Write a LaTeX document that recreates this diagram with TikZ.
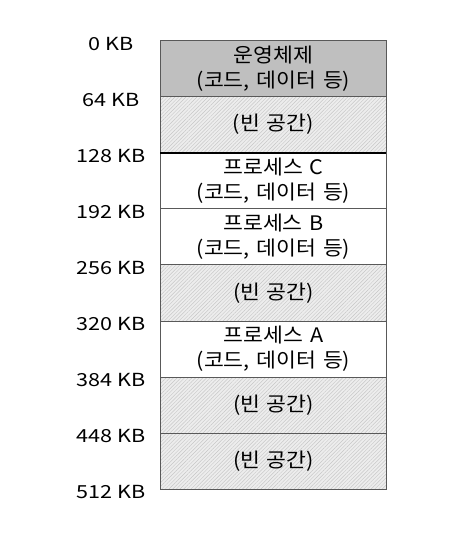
\documentclass[tikz,border=0pt]{standalone}
\usepackage{fontspec}
\setmainfont{Noto Sans CJK KR}
\newfontfamily\boxfont[FakeStretch=1.08,WordSpace=1.4]{Noto Sans CJK KR}
\newfontfamily\addrfont[FakeStretch=1.2]{Noto Sans CJK KR}
\usetikzlibrary{patterns.meta}
\begin{document}
\begin{tikzpicture}[x=1pt,y=-1pt,
  seg/.style={draw=black!65,line width=1pt,minimum width=226pt,minimum height=56.1pt,inner sep=0pt,anchor=north west,align=center,font=\boxfont\fontsize{20}{25}\selectfont},
  osseg/.style={seg,fill=black!25},
  freeseg/.style={seg,preaction={fill=black!7},pattern={Lines[angle=45,distance=2.6pt,line width=0.45pt]},pattern color=black!22},
  procseg/.style={seg,fill=white},
  addr/.style={font=\addrfont\fontsize{18}{20}\selectfont,inner sep=0pt}]
\useasboundingbox (0,0) rectangle (475,533);
\node[osseg] (os) at (160,40) {\raisebox{-3pt}{\parbox{220pt}{\centering 운영체제\\(코드, 데이터 등)}}};
\node[freeseg] (f1) at (160,96.1) {\raisebox{-1pt}{(빈 공간)}};
\node[procseg] (pc) at (160,152.2) {\raisebox{-3pt}{\parbox{220pt}{\centering 프로세스 C\\(코드, 데이터 등)}}};
\node[procseg] (pb) at (160,208.3) {\raisebox{-3pt}{\parbox{220pt}{\centering 프로세스 B\\(코드, 데이터 등)}}};
\node[freeseg] (f2) at (160,264.4) {\raisebox{-1pt}{(빈 공간)}};
\node[procseg] (pa) at (160,320.5) {\raisebox{-3pt}{\parbox{220pt}{\centering 프로세스 A\\(코드, 데이터 등)}}};
\node[freeseg] (f3) at (160,376.6) {\raisebox{-1pt}{(빈 공간)}};
\node[freeseg] (f4) at (160,432.7) {\raisebox{-1pt}{(빈 공간)}};
\draw[line width=2pt] (f1.south west) -- (f1.south east);
\node[addr] (a0) at (111,44) {0 KB};
\node[addr] (a1) at (111,100) {64 KB};
\node[addr] (a2) at (111,156) {128 KB};
\node[addr] (a3) at (111,212) {192 KB};
\node[addr] (a4) at (111,268) {256 KB};
\node[addr] (a5) at (111,324) {320 KB};
\node[addr] (a6) at (111,380) {384 KB};
\node[addr] (a7) at (111,436) {448 KB};
\node[addr] (a8) at (111,492) {512 KB};
\end{tikzpicture}
\end{document}
